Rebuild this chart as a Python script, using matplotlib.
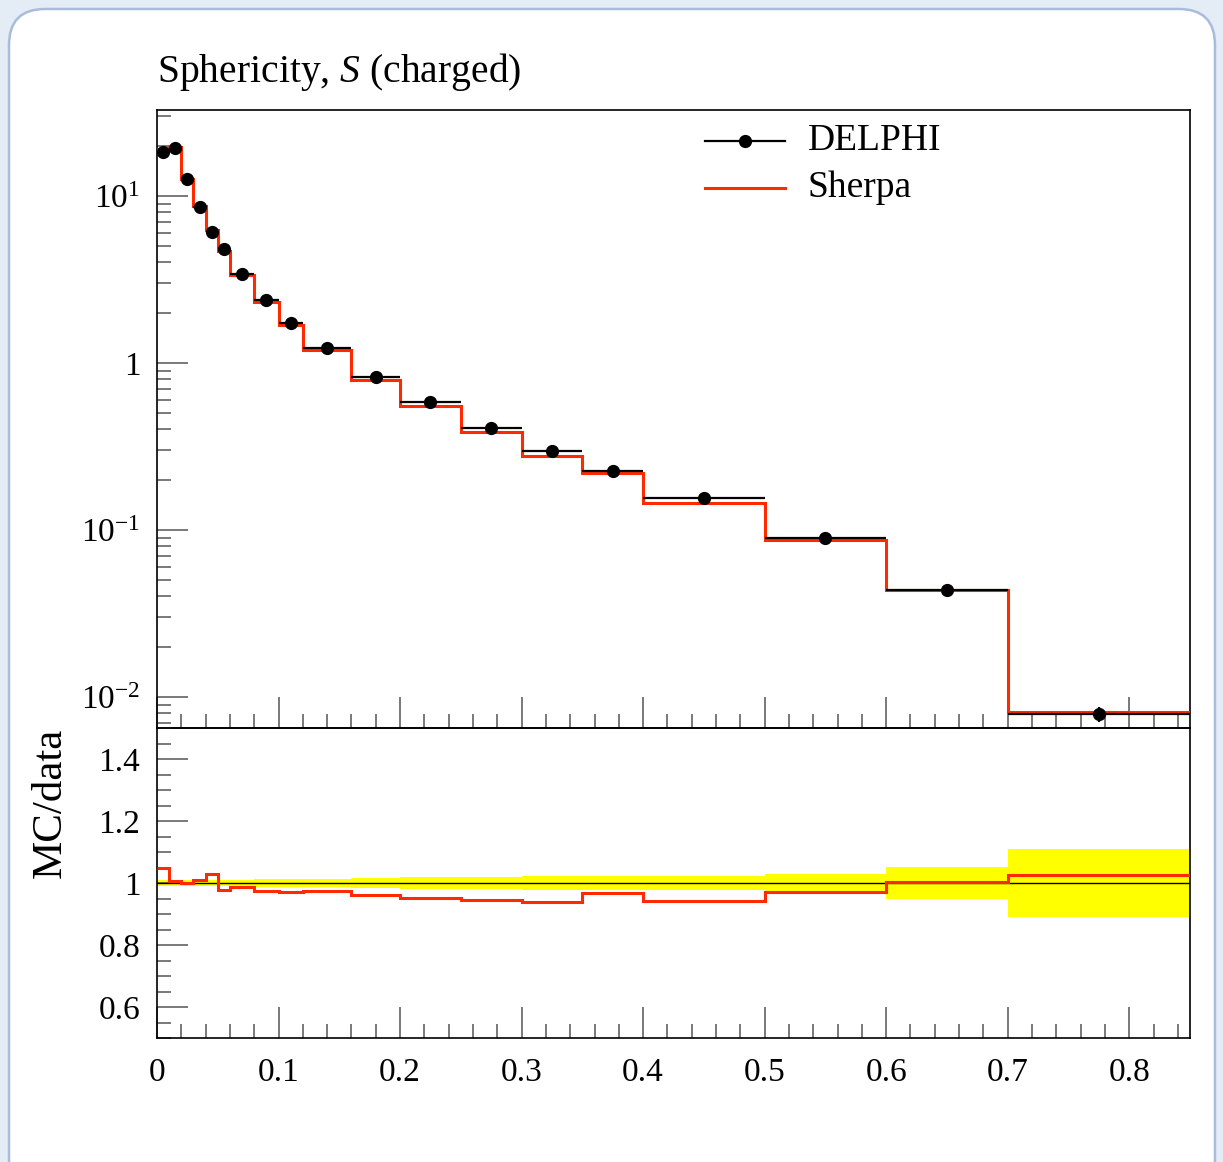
import matplotlib
matplotlib.use("Agg")
import matplotlib.pyplot as plt
import numpy as np
from matplotlib.patches import FancyBboxPatch
from matplotlib.ticker import FixedLocator, FixedFormatter, MultipleLocator, NullFormatter
from matplotlib.transforms import IdentityTransform

plt.rcParams['font.family'] = ['Liberation Serif', 'DejaVu Serif']
plt.rcParams['mathtext.fontset'] = 'custom'
plt.rcParams['mathtext.rm'] = 'Liberation Serif'
plt.rcParams['mathtext.it'] = 'Liberation Serif:italic'

# ---- data ----
edges = [0.0, 0.01, 0.02, 0.03, 0.04, 0.05, 0.06, 0.08, 0.10, 0.12, 0.16,
         0.20, 0.25, 0.30, 0.35, 0.40, 0.50, 0.60, 0.70, 0.85]
delphi = [18.3, 19.4, 12.6, 8.6, 6.1, 4.8, 3.41, 2.38, 1.74, 1.23, 0.824,
          0.584, 0.408, 0.297, 0.225, 0.155, 0.0896, 0.0437, 0.0079]
delphi_relerr = [0.010, 0.010, 0.010, 0.010, 0.010, 0.011, 0.011, 0.012, 0.012,
                 0.014, 0.016, 0.018, 0.018, 0.021, 0.021, 0.021, 0.029, 0.051, 0.109]
sherpa = [19.2, 19.5, 12.6, 8.69, 6.27, 4.69, 3.37, 2.32, 1.69, 1.20, 0.792,
          0.555, 0.386, 0.279, 0.218, 0.146, 0.0869, 0.0439, 0.0081]

main_yticks = [0.01, 0.1, 1, 10]
main_ylabels = [r'10$^{-2}$', r'10$^{-1}$', '1', r'10$^{1}$']
ratio_yticks = [0.6, 0.8, 1.0, 1.2, 1.4]
ratio_ylabels = ['0.6', '0.8', '1', '1.2', '1.4']
xticks = [0.0, 0.1, 0.2, 0.3, 0.4, 0.5, 0.6, 0.7, 0.8]
xlabels = ['0', '0.1', '0.2', '0.3', '0.4', '0.5', '0.6', '0.7', '0.8']

RED = '#ff2a00'
YELLOW = '#ffff00'

e = np.array(edges)
d = np.array(delphi)
s = np.array(sherpa)
rel = np.array(delphi_relerr)
centers = 0.5 * (e[:-1] + e[1:])
halfw = 0.5 * (e[1:] - e[:-1])

W, H = 1223, 1162
fig = plt.figure(figsize=(W / 100, H / 100), dpi=100)
fig.patch.set_facecolor('#e4ecf6')
box = FancyBboxPatch((9, -40), 1206, 1153 + 40, boxstyle='round,pad=0,rounding_size=36',
                     transform=IdentityTransform(), facecolor='white',
                     edgecolor='#a9bcdc', linewidth=1.8, zorder=-10)
fig.patches.append(box)

L, R = 157, 1190
top_main, bot_main, bot_ratio = 110, 728, 1038
ax = fig.add_axes([L / W, 1 - bot_main / H, (R - L) / W, (bot_main - top_main) / H])
ax2 = fig.add_axes([L / W, 1 - bot_ratio / H, (R - L) / W, (bot_ratio - bot_main) / H])
for a in (ax, ax2):
    a.patch.set_alpha(0)

# main panel
ax.stairs(s, e, color=RED, lw=2.2, baseline=None, zorder=3)
ax.errorbar(centers, d, xerr=halfw, yerr=d * rel, fmt='o', color='black',
            ms=8.5, lw=1.6, capsize=0, zorder=4)
ax.set_yscale('log')
ax.set_xlim(0, 0.85)
ax.set_ylim(0.00652, 32.7)
ax.yaxis.set_major_locator(FixedLocator(main_yticks))
ax.yaxis.set_major_formatter(FixedFormatter(main_ylabels))
ax.yaxis.set_minor_formatter(NullFormatter())
ax.xaxis.set_major_locator(FixedLocator(xticks))
ax.xaxis.set_minor_locator(MultipleLocator(0.02))
ax.tick_params(axis='x', labelbottom=False)

# ratio panel
ax2.stairs(1 + rel, e, baseline=1 - rel, fill=True, color=YELLOW, lw=0, zorder=1)
ax2.axhline(1.0, color='black', lw=1.0, zorder=2)
ax2.stairs(s / d, e, color=RED, lw=2.2, baseline=None, zorder=3)
ax2.set_xlim(0, 0.85)
ax2.set_ylim(0.5, 1.5)
ax2.yaxis.set_major_locator(FixedLocator(ratio_yticks))
ax2.yaxis.set_major_formatter(FixedFormatter(ratio_ylabels))
ax2.yaxis.set_minor_locator(MultipleLocator(0.05))
ax2.xaxis.set_major_locator(FixedLocator(xticks))
ax2.xaxis.set_major_formatter(FixedFormatter(xlabels))
ax2.xaxis.set_minor_locator(MultipleLocator(0.02))

for a in (ax, ax2):
    a.tick_params(which='both', direction='in', top=False, right=False,
                  color='#555555', width=1.1, labelsize=24, pad=12)
    a.tick_params(which='major', length=22)
    a.tick_params(which='minor', length=10)
    for sp in a.spines.values():
        sp.set_linewidth(1.2)
ax2.tick_params(axis='x', pad=14)

fig.text(50 / W, 1 - 803 / H, 'MC/data', rotation=90, ha='center', va='center', fontsize=31)
fig.text(157 / W, 1 - 82 / H, r'Sphericity, $S$ (charged)', ha='left', va='baseline', fontsize=28.5)

# legend
def px(x, y):
    return ((x - L) / (R - L), (bot_main - y) / (bot_main - top_main))

x0, y0 = px(705, 141)
x1, _ = px(785, 141)
xm, _ = px(745, 141)
ax.plot([x0, x1], [y0, y0], transform=ax.transAxes, color='black', lw=1.6, clip_on=False)
ax.plot([xm], [y0], 'o', transform=ax.transAxes, color='black', ms=8.5, clip_on=False)
tx, _ = px(808, 141)
ax.text(tx, y0, 'DELPHI', transform=ax.transAxes, va='center', ha='left', fontsize=27)
_, y1 = px(705, 188)
ax.plot([x0, x1], [y1, y1], transform=ax.transAxes, color=RED, lw=2.2, clip_on=False)
ax.text(tx, y1, 'Sherpa', transform=ax.transAxes, va='center', ha='left', fontsize=27)

fig.savefig('out.png', dpi=100, facecolor=fig.get_facecolor())
